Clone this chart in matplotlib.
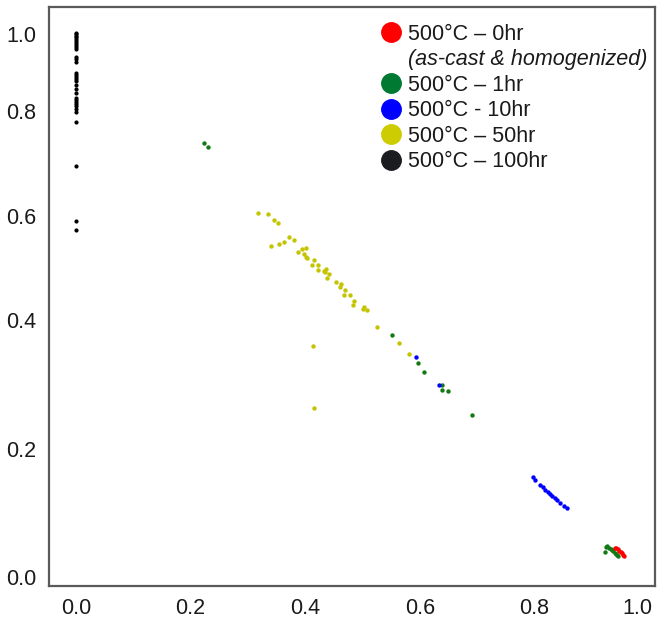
import numpy as np
import matplotlib
matplotlib.use("Agg")
import matplotlib.pyplot as plt
from matplotlib.lines import Line2D

plt.rcParams['font.family'] = ['Liberation Sans', 'DejaVu Sans']

# ---------------- data ----------------
black_x = [0.0] * 32
black_y = [1.003, 1.0, 0.996, 0.991, 0.986, 0.981, 0.976, 0.972, 0.967, 0.962,
           0.941, 0.934, 0.928, 0.900, 0.894, 0.889, 0.884, 0.879, 0.867, 0.858,
           0.848, 0.833, 0.829, 0.823, 0.818, 0.813, 0.806, 0.799, 0.779, 0.695,
           0.591, 0.574]

yellow_x = [0.319, 0.336, 0.346, 0.353, 0.373, 0.380, 0.340, 0.354, 0.364, 0.388,
            0.394, 0.402, 0.398, 0.402, 0.404, 0.416, 0.413, 0.423, 0.423, 0.437,
            0.433, 0.435, 0.441, 0.439, 0.454, 0.462, 0.461, 0.470, 0.467, 0.479,
            0.485, 0.484, 0.502, 0.500, 0.507, 0.526, 0.564, 0.581, 0.414, 0.415]
yellow_y = [0.605, 0.603, 0.592, 0.587, 0.560, 0.553, 0.542, 0.546, 0.550, 0.530,
            0.536, 0.538, 0.527, 0.522, 0.520, 0.516, 0.506, 0.505, 0.497, 0.499,
            0.494, 0.492, 0.489, 0.481, 0.473, 0.469, 0.464, 0.458, 0.449, 0.448,
            0.437, 0.429, 0.425, 0.421, 0.419, 0.389, 0.365, 0.347, 0.359, 0.263]

green_x = [0.225, 0.231, 0.552, 0.596, 0.607, 0.638, 0.639, 0.649, 0.691,
           0.937, 0.940, 0.942, 0.946, 0.950, 0.952, 0.954, 0.957, 0.959, 0.961, 0.963]
green_y = [0.739, 0.731, 0.376, 0.333, 0.319, 0.299, 0.291, 0.290, 0.253,
           0.039, 0.047, 0.048, 0.046, 0.044, 0.042, 0.040, 0.038, 0.036, 0.034, 0.033]

blue_x = [0.593, 0.633, 0.798, 0.802, 0.812, 0.818, 0.821, 0.827, 0.831, 0.835,
          0.841, 0.845, 0.851, 0.858, 0.864]
blue_y = [0.342, 0.300, 0.156, 0.152, 0.144, 0.141, 0.136, 0.133, 0.130, 0.127,
          0.123, 0.120, 0.116, 0.111, 0.108]

red_x = [0.957, 0.960, 0.963, 0.965, 0.968, 0.970, 0.973, 0.975]
red_y = [0.046, 0.045, 0.043, 0.041, 0.039, 0.037, 0.035, 0.033]

tick_vals = [0.0, 0.2, 0.4, 0.6, 0.8, 1.0]
tick_labels = ['0.0', '0.2', '0.4', '0.6', '0.8', '1.0']

legend_labels = ['500°C – 0hr', '(as-cast & homogenized)', '500°C – 1hr',
                 '500°C - 10hr', '500°C – 50hr', '500°C – 100hr']

# ------------- axis warping (uneven tick spacing in the original) -------------
x_nodes = np.array([0.0, 0.2, 0.4, 0.6, 0.8, 1.0])
x_disp = np.array([76, 190, 305, 420, 534, 637], float)
y_nodes = np.array([0.0, 0.2, 0.4, 0.6, 0.8, 1.0])
y_disp = 621 - np.array([577, 449, 320, 216, 111, 34], float)


def pw(v, xs, ys):
    v = np.asarray(v, float)
    lo = ys[0] + (v - xs[0]) * (ys[1] - ys[0]) / (xs[1] - xs[0])
    hi = ys[-1] + (v - xs[-1]) * (ys[-1] - ys[-2]) / (xs[-1] - xs[-2])
    return np.where(v < xs[0], lo, np.where(v > xs[-1], hi, np.interp(v, xs, ys)))


fx = (lambda v: pw(v, x_nodes, x_disp), lambda u: pw(u, x_disp, x_nodes))
fy = (lambda v: pw(v, y_nodes, y_disp), lambda u: pw(u, y_disp, y_nodes))

# ---------------- figure ----------------
fig = plt.figure(figsize=(6.66, 6.21), dpi=100)
ax = fig.add_axes([49 / 666, (621 - 586) / 621, (655 - 49) / 666, (586 - 7) / 621])
ax.set_xscale('function', functions=fx)
ax.set_yscale('function', functions=fy)

s = 10
ax.scatter(black_x, black_y, s=9, color='#000000', linewidths=0, zorder=3)
ax.scatter(yellow_x, yellow_y, s=s, color='#c4c400', linewidths=0, zorder=3)
ax.scatter(green_x, green_y, s=s, color='#137a13', linewidths=0, zorder=3)
ax.scatter(blue_x, blue_y, s=s, color='#0000ff', linewidths=0, zorder=3)
ax.scatter(red_x, red_y, s=s, color='#ff0000', linewidths=0, zorder=3)

ax.set_xlim(float(fx[1](49)), float(fx[1](655)))
ax.set_ylim(float(fy[1](621 - 586)), float(fy[1](621 - 7)))

ax.set_xticks(tick_vals, labels=tick_labels)
ax.set_yticks(tick_vals, labels=tick_labels)
ax.minorticks_off()
ax.tick_params(length=0, labelsize=15.5, labelcolor='#1a1a1a', pad=9)

for sp in ax.spines.values():
    sp.set_color('#5a5a5a')
    sp.set_linewidth(1.6)

leg_colors = ['#ff0000', None, '#007a33', '#0000ff', '#cccc00', '#1a1c20']
handles = []
for c in leg_colors:
    if c is None:
        handles.append(Line2D([], [], linestyle='none', marker='o', markersize=14,
                              color='none'))
    else:
        handles.append(Line2D([], [], linestyle='none', marker='o', markersize=14,
                              color=c))
leg = ax.legend(handles, legend_labels, loc='upper right', frameon=False,
                fontsize=15.5, handlelength=0.8, handletextpad=0.39,
                labelspacing=0.21, borderaxespad=0, borderpad=0,
                bbox_to_anchor=(0.987, 0.971))
for t in leg.get_texts():
    t.set_color('#1a1a1a')
leg.get_texts()[1].set_fontstyle('italic')

fig.savefig('out.png', dpi=100)
